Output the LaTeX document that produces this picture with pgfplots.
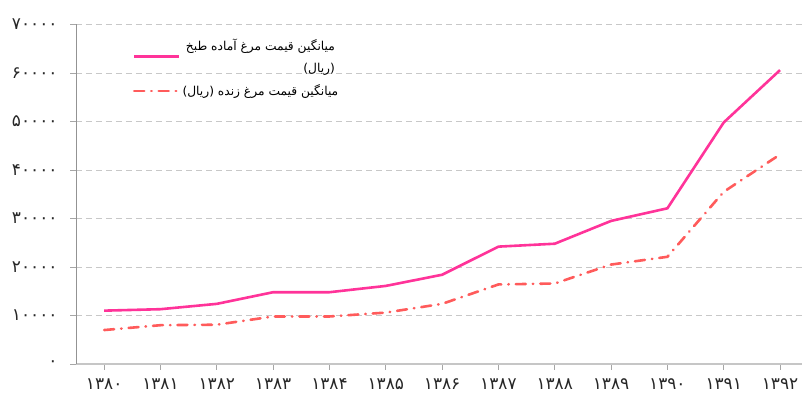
\documentclass[border=0pt]{standalone}
\usepackage{fontspec}
\usepackage{pgfplots}
\pgfplotsset{compat=1.18}
\setmainfont{DejaVu Sans}
\newfontfamily\arabicfont[Script=Arabic]{DejaVu Sans}
\TeXXeTstate=1
\definecolor{pinkline}{HTML}{FF3399}
\definecolor{redline}{HTML}{FF5B5B}
\definecolor{gridgray}{HTML}{C8C8C8}
\begin{document}
\begin{tikzpicture}
\begin{axis}[
 scale only axis, width=726bp, height=339.5bp,
 xmin=1379.5, xmax=1392.39, ymin=0, ymax=70000,
 scaled y ticks=false,
 axis x line=bottom, axis y line=left, axis line style={-},
 x axis line style={draw=gray!45, line width=1.5bp},
 y axis line style={draw=gray!85, line width=0.9bp},
 xtick={1380,1381,1382,1383,1384,1385,1386,1387,1388,1389,1390,1391,1392},
 xticklabels={۱۳۸۰,۱۳۸۱,۱۳۸۲,۱۳۸۳,۱۳۸۴,۱۳۸۵,۱۳۸۶,۱۳۸۷,۱۳۸۸,۱۳۸۹,۱۳۹۰,۱۳۹۱,۱۳۹۲},
 ytick={0,10000,20000,30000,40000,50000,60000,70000},
 yticklabels={۰,۱۰۰۰۰,۲۰۰۰۰,۳۰۰۰۰,۴۰۰۰۰,۵۰۰۰۰,۶۰۰۰۰,۷۰۰۰۰},
 tick align=outside, major tick length=6bp,
 tick style={draw=gray!70, line width=0.8bp},
 ymajorgrids, major grid style={draw=gridgray, dash pattern=on 6bp off 4bp, line width=0.8bp},
 tick label style={font=\arabicfont\fontsize{17}{19}\selectfont, text=black!85},
 xticklabel style={yshift=-5bp},
 yticklabel style={xshift=-9bp},
 legend style={at={(0.074,0.97)}, anchor=north west, draw=none, fill=none,
   font=\arabicfont\fontsize{12.3}{22}\selectfont, cells={align=right}, row sep=7bp},
 legend image code/.code={\draw[#1] (0bp,0bp) -- (45bp,0bp);},
]
\coordinate (ll) at (rel axis cs:0,0);
\addplot[pinkline, line width=2.6bp] coordinates {(1380,11000)(1381,11300)(1382,12400)(1383,14800)(1384,14800)(1385,16100)(1386,18400)(1387,24200)(1388,24800)(1389,29500)(1390,32100)(1391,49800)(1392,60600)};
\addlegendentry{\beginR میانگین قیمت مرغ آماده طبخ\endR\\\beginR(ریال)\endR}
\addplot[redline, line width=2.6bp, dash pattern=on 10bp off 7bp on 0.5bp off 7bp, line cap=round] coordinates {(1380,7000)(1381,8000)(1382,8100)(1383,9800)(1384,9800)(1385,10600)(1386,12400)(1387,16400)(1388,16600)(1389,20500)(1390,22100)(1391,35500)(1392,43200)};
\addlegendentry{\beginR میانگین قیمت مرغ زنده (ریال)\endR}
\end{axis}
\pgfresetboundingbox
\path ([xshift=-76bp,yshift=-37bp]ll) rectangle ++(802bp,401bp);
\end{tikzpicture}
\end{document}
